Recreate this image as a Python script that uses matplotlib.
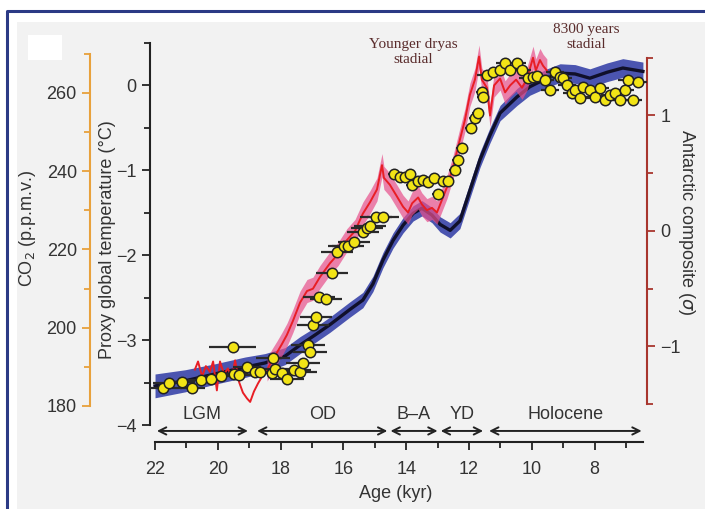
import numpy as np
import matplotlib.pyplot as plt
from matplotlib.patches import Rectangle
from matplotlib.lines import Line2D
from matplotlib.ticker import MultipleLocator

plt.rcParams['font.family'] = ['Liberation Sans', 'DejaVu Sans']

# proxy global temperature stack (deg C)
temp_age = [22.0, 21.04, 20.09, 19.13, 18.5, 17.86, 17.38, 16.9, 16.43, 15.79, 15.38, 15.06,
            14.74, 14.42, 14.1, 13.78, 13.5, 13.18, 12.92, 12.6, 12.29, 11.97, 11.65, 11.33,
            11.01, 10.47, 10.06, 9.52, 9.1, 8.62, 8.15, 7.6, 7.1, 6.46]
temp_val = [-3.54, -3.48, -3.40, -3.32, -3.27, -3.19, -3.06, -2.94, -2.82, -2.64, -2.53, -2.34,
            -2.06, -1.83, -1.65, -1.51, -1.45, -1.53, -1.64, -1.71, -1.60, -1.24, -0.88, -0.59,
            -0.33, -0.14, -0.02, 0.08, 0.14, 0.13, 0.08, 0.15, 0.20, 0.16]
temp_err = [0.14, 0.13, 0.12, 0.12, 0.11, 0.1, 0.1, 0.09, 0.09, 0.09, 0.09, 0.09,
            0.09, 0.09, 0.09, 0.09, 0.09, 0.09, 0.09, 0.09, 0.09, 0.09, 0.09, 0.09,
            0.09, 0.1, 0.1, 0.11, 0.11, 0.11, 0.11, 0.11, 0.11, 0.11]

# Antarctic composite (sigma)
ant_age = [20.73, 20.63, 20.50, 20.38, 20.25, 20.15, 20.03, 19.93, 19.80, 19.68,
           19.55, 19.45, 19.32, 19.20, 19.07, 18.97, 18.85, 18.72, 18.59, 18.43,
           18.27, 18.11, 17.96, 17.80, 17.61, 17.38, 17.16, 16.97, 16.75, 16.43,
           16.17, 15.89, 15.63, 15.38, 15.15, 14.93, 14.77, 14.71, 14.52, 14.32,
           14.10, 13.94, 13.81, 13.62, 13.50, 13.34, 13.18, 13.02, 12.86, 12.70,
           12.51, 12.29, 12.13, 11.97, 11.81, 11.68, 11.59, 11.43, 11.33, 11.20,
           11.01, 10.85, 10.69, 10.50, 10.31, 10.15, 9.96, 9.87, 9.74, 9.64, 9.52]
ant_val = [-1.20, -1.13, -1.26, -1.17, -1.22, -1.13, -1.38, -1.13, -1.24, -1.19,
           -1.27, -1.12, -1.31, -1.40, -1.45, -1.48, -1.39, -1.32, -1.26, -1.20,
           -1.12, -1.05, -0.98, -0.90, -0.78, -0.62, -0.52, -0.50, -0.40, -0.28,
           -0.20, -0.08, 0.00, 0.15, 0.25, 0.36, 0.57, 0.46, 0.40, 0.31,
           0.21, 0.16, 0.24, 0.29, 0.23, 0.18, 0.20, 0.16, 0.27, 0.38,
           0.55, 0.79, 0.96, 1.18, 1.31, 1.51, 1.31, 1.24, 1.00, 1.26,
           1.32, 1.20, 1.26, 1.31, 1.24, 1.32, 1.50, 1.39, 1.48, 1.43, 1.39]

# CO2 (ppmv) with age uncertainty (kyr)
co2_age = [21.75, 21.55, 21.14, 20.82, 20.54, 20.22, 19.90, 19.52, 19.48, 19.32, 19.07, 18.82,
           18.66, 18.27, 18.24, 18.18, 17.96, 17.80, 17.57, 17.38, 17.29, 17.13, 17.06, 16.97,
           16.87, 16.78, 16.55, 16.36, 16.20, 15.98, 15.85, 15.66, 15.38, 15.25, 15.15, 14.96,
           14.74, 14.39, 14.20, 14.04, 13.88, 13.81, 13.62, 13.46, 13.30, 13.11, 12.99, 12.83,
           12.67, 12.45, 12.35, 12.22, 11.94, 11.81, 11.71, 11.59, 11.55, 11.43, 11.24, 11.01,
           10.85, 10.69, 10.47, 10.31, 10.12, 9.96, 9.83, 9.58, 9.42, 9.26, 9.10, 9.01,
           8.88, 8.72, 8.62, 8.46, 8.37, 8.15, 7.99, 7.83, 7.67, 7.51, 7.35, 7.19,
           7.03, 6.94, 6.78, 6.62]
co2_val = [184.6, 185.9, 186.1, 184.6, 186.6, 186.9, 187.7, 195.1, 188.2, 187.9, 190.0, 188.7,
           188.7, 188.4, 192.3, 189.4, 188.4, 186.9, 189.2, 188.7, 191.0, 195.6, 193.8, 200.7,
           202.7, 207.9, 207.4, 214.0, 219.4, 220.9, 220.9, 221.9, 224.5, 225.5, 226.0, 228.3,
           228.3, 239.3, 238.5, 238.5, 239.3, 236.5, 237.5, 237.8, 237.3, 238.3, 234.2, 237.5,
           237.5, 240.3, 242.9, 245.9, 251.1, 253.6, 254.9, 260.3, 259.0, 264.6, 265.4, 265.9,
           267.7, 265.9, 267.7, 265.9, 263.8, 264.1, 264.3, 263.3, 260.8, 265.4, 264.1, 263.8,
           262.0, 260.0, 260.8, 258.7, 261.5, 260.8, 259.0, 261.3, 258.2, 259.5, 260.0, 258.2,
           260.8, 263.3, 258.2, 262.8]
co2_xerr = [0.6, 0.5] + [0.4] * 5 + [0.75] + [0.45] * 5 + [0.55] * 10 + [0.5] * 14 \
    + [0.2] * 12 + [0.2] * 8 + [0.3] * 31

periods = ['LGM', 'OD', 'B–A', 'YD', 'Holocene']
period_start = [21.94, 18.75, 14.5, 12.9, 11.36]
period_end = [19.04, 14.6, 13.0, 11.55, 6.5]

W, H = 705, 509
def fx(x): return x / W
def fy(y): return 1 - y / H

fig = plt.figure(figsize=(W / 100, H / 100), dpi=100)
fig.patch.set_facecolor('white')
fig.add_artist(Rectangle((fx(17), 0), 1, fy(22), transform=fig.transFigure,
                         facecolor='#f2f2f2', edgecolor='none', zorder=-10))
fig.add_artist(Rectangle((fx(28), fy(60)), fx(34), 25 / H, transform=fig.transFigure,
                         facecolor='white', edgecolor='none', zorder=-9))
fig.add_artist(Line2D([fx(7), fx(7), 1], [0, fy(11), fy(11)], transform=fig.transFigure,
                      color='#2b3a85', lw=2.2))

txt = '#333333'
ax = fig.add_axes([fx(150), fy(442), (647 - 150) / W, 400 / H])
ax.patch.set_visible(False)
ax.set_xlim(22.16, 6.33)
ax.set_ylim(-4.2, 0.506)

lo = np.array(temp_val) - np.array(temp_err)
hi = np.array(temp_val) + np.array(temp_err)
ax.fill_between(temp_age, lo, hi, color='#4b55b0', lw=0, zorder=1)
ax.plot(temp_age, temp_val, color='#10102a', lw=2.4, zorder=2)

for s in ['top', 'right']:
    ax.spines[s].set_visible(False)
ax.spines['left'].set_bounds(-4, 0.5)
ax.spines['bottom'].set_bounds(22, 6.45)
for s in ['left', 'bottom']:
    ax.spines[s].set_linewidth(1.5)
    ax.spines[s].set_color('#222222')
ax.yaxis.set_major_locator(MultipleLocator(1))
ax.yaxis.set_minor_locator(MultipleLocator(0.5))
ax.xaxis.set_major_locator(MultipleLocator(2))
ax.xaxis.set_minor_locator(MultipleLocator(1))
ax.set_xticks(range(22, 7, -2))
ax.tick_params(which='both', direction='out', width=1.3, colors='#222222', labelcolor=txt,
               labelsize=13)
ax.tick_params(which='major', length=6)
ax.tick_params(which='minor', length=4)
ax.tick_params(axis='x', pad=8)

# period arrows
for name, a0, a1 in zip(periods, period_start, period_end):
    ax.annotate('', xy=(a0, -4.07), xytext=(a1, -4.07),
                arrowprops=dict(arrowstyle='<->', color='#222222', lw=1.4,
                                shrinkA=0, shrinkB=0, mutation_scale=13),
                annotation_clip=False)
    ax.text((a0 + a1) / 2, -3.88, name, ha='center', va='center', fontsize=13, color=txt)

# Antarctic composite axis
axr = ax.twinx()
axr.set_ylim(-1.827, 1.636)
ant = np.array(ant_val)
ages = np.array(ant_age)
band = ages < 18.5  # the pink envelope is only visible on the deglacial part
axr.fill_between(ages[band], ant[band] - 0.1, ant[band] + 0.1, color='#e8508c', alpha=0.7,
                 lw=0, zorder=1)
axr.plot(ant_age, ant_val, color='#e81e25', lw=1.4, zorder=2)
axr.spines['right'].set_bounds(-1.5, 1.5)
axr.spines['right'].set_color('#a8362e')
axr.spines['right'].set_linewidth(1.5)
for s in ['top', 'left', 'bottom']:
    axr.spines[s].set_visible(False)
axr.yaxis.set_major_locator(MultipleLocator(1))
axr.yaxis.set_minor_locator(MultipleLocator(0.5))
axr.tick_params(which='both', direction='out', width=1.3, colors='#a8362e', labelcolor=txt,
                labelsize=13)
axr.tick_params(which='major', length=6)
axr.tick_params(which='minor', length=4)

# CO2 axis
axc = ax.twinx()
axc.set_ylim(170.8, 273.0)
axc.errorbar(co2_age, co2_val, xerr=co2_xerr, fmt='none', ecolor='#2a2a2a', elinewidth=1.6,
             capsize=0, zorder=3)
axc.plot(co2_age, co2_val, 'o', ms=7.5, mfc='#f2e416', mec='#222222', mew=1.1, zorder=4)
axc.yaxis.set_label_position('left')
axc.yaxis.tick_left()
axc.spines['left'].set_position(('axes', -0.1207))
axc.spines['left'].set_bounds(180, 270)
axc.spines['left'].set_color('#e8a13c')
axc.spines['left'].set_linewidth(1.5)
for s in ['top', 'right', 'bottom']:
    axc.spines[s].set_visible(False)
axc.yaxis.set_major_locator(MultipleLocator(20))
axc.yaxis.set_minor_locator(MultipleLocator(10))
axc.set_yticks(range(180, 261, 20))
axc.tick_params(which='both', direction='out', width=1.3, colors='#e8a13c', labelcolor=txt,
                labelsize=13)
axc.tick_params(which='major', length=6)
axc.tick_params(which='minor', length=4)

# axis titles
fig.text(fx(28), fy(228), 'CO$_2$ (p.p.m.v.)', rotation=90, ha='center', va='center',
         fontsize=13, color=txt)
fig.text(fx(108), fy(240), 'Proxy global temperature (°C)', rotation=90, ha='center',
         va='center', fontsize=13, color=txt)
fig.text(fx(686), fy(222), 'Antarctic composite ($\\sigma$)', rotation=270, ha='center',
         va='center', fontsize=13, color=txt)
fig.text(fx(396), fy(494), 'Age (kyr)', ha='center', va='center', fontsize=13, color=txt)

ser = ['Liberation Serif', 'DejaVu Serif']
fig.text(fx(413), fy(52), 'Younger dryas\nstadial', ha='center', va='center', fontsize=11,
         color='#5a2c2c', family=ser, linespacing=1.25)
fig.text(fx(586), fy(37), '8300 years\nstadial', ha='center', va='center', fontsize=11,
         color='#5a2c2c', family=ser, linespacing=1.25)

fig.savefig('out.png', dpi=100)
